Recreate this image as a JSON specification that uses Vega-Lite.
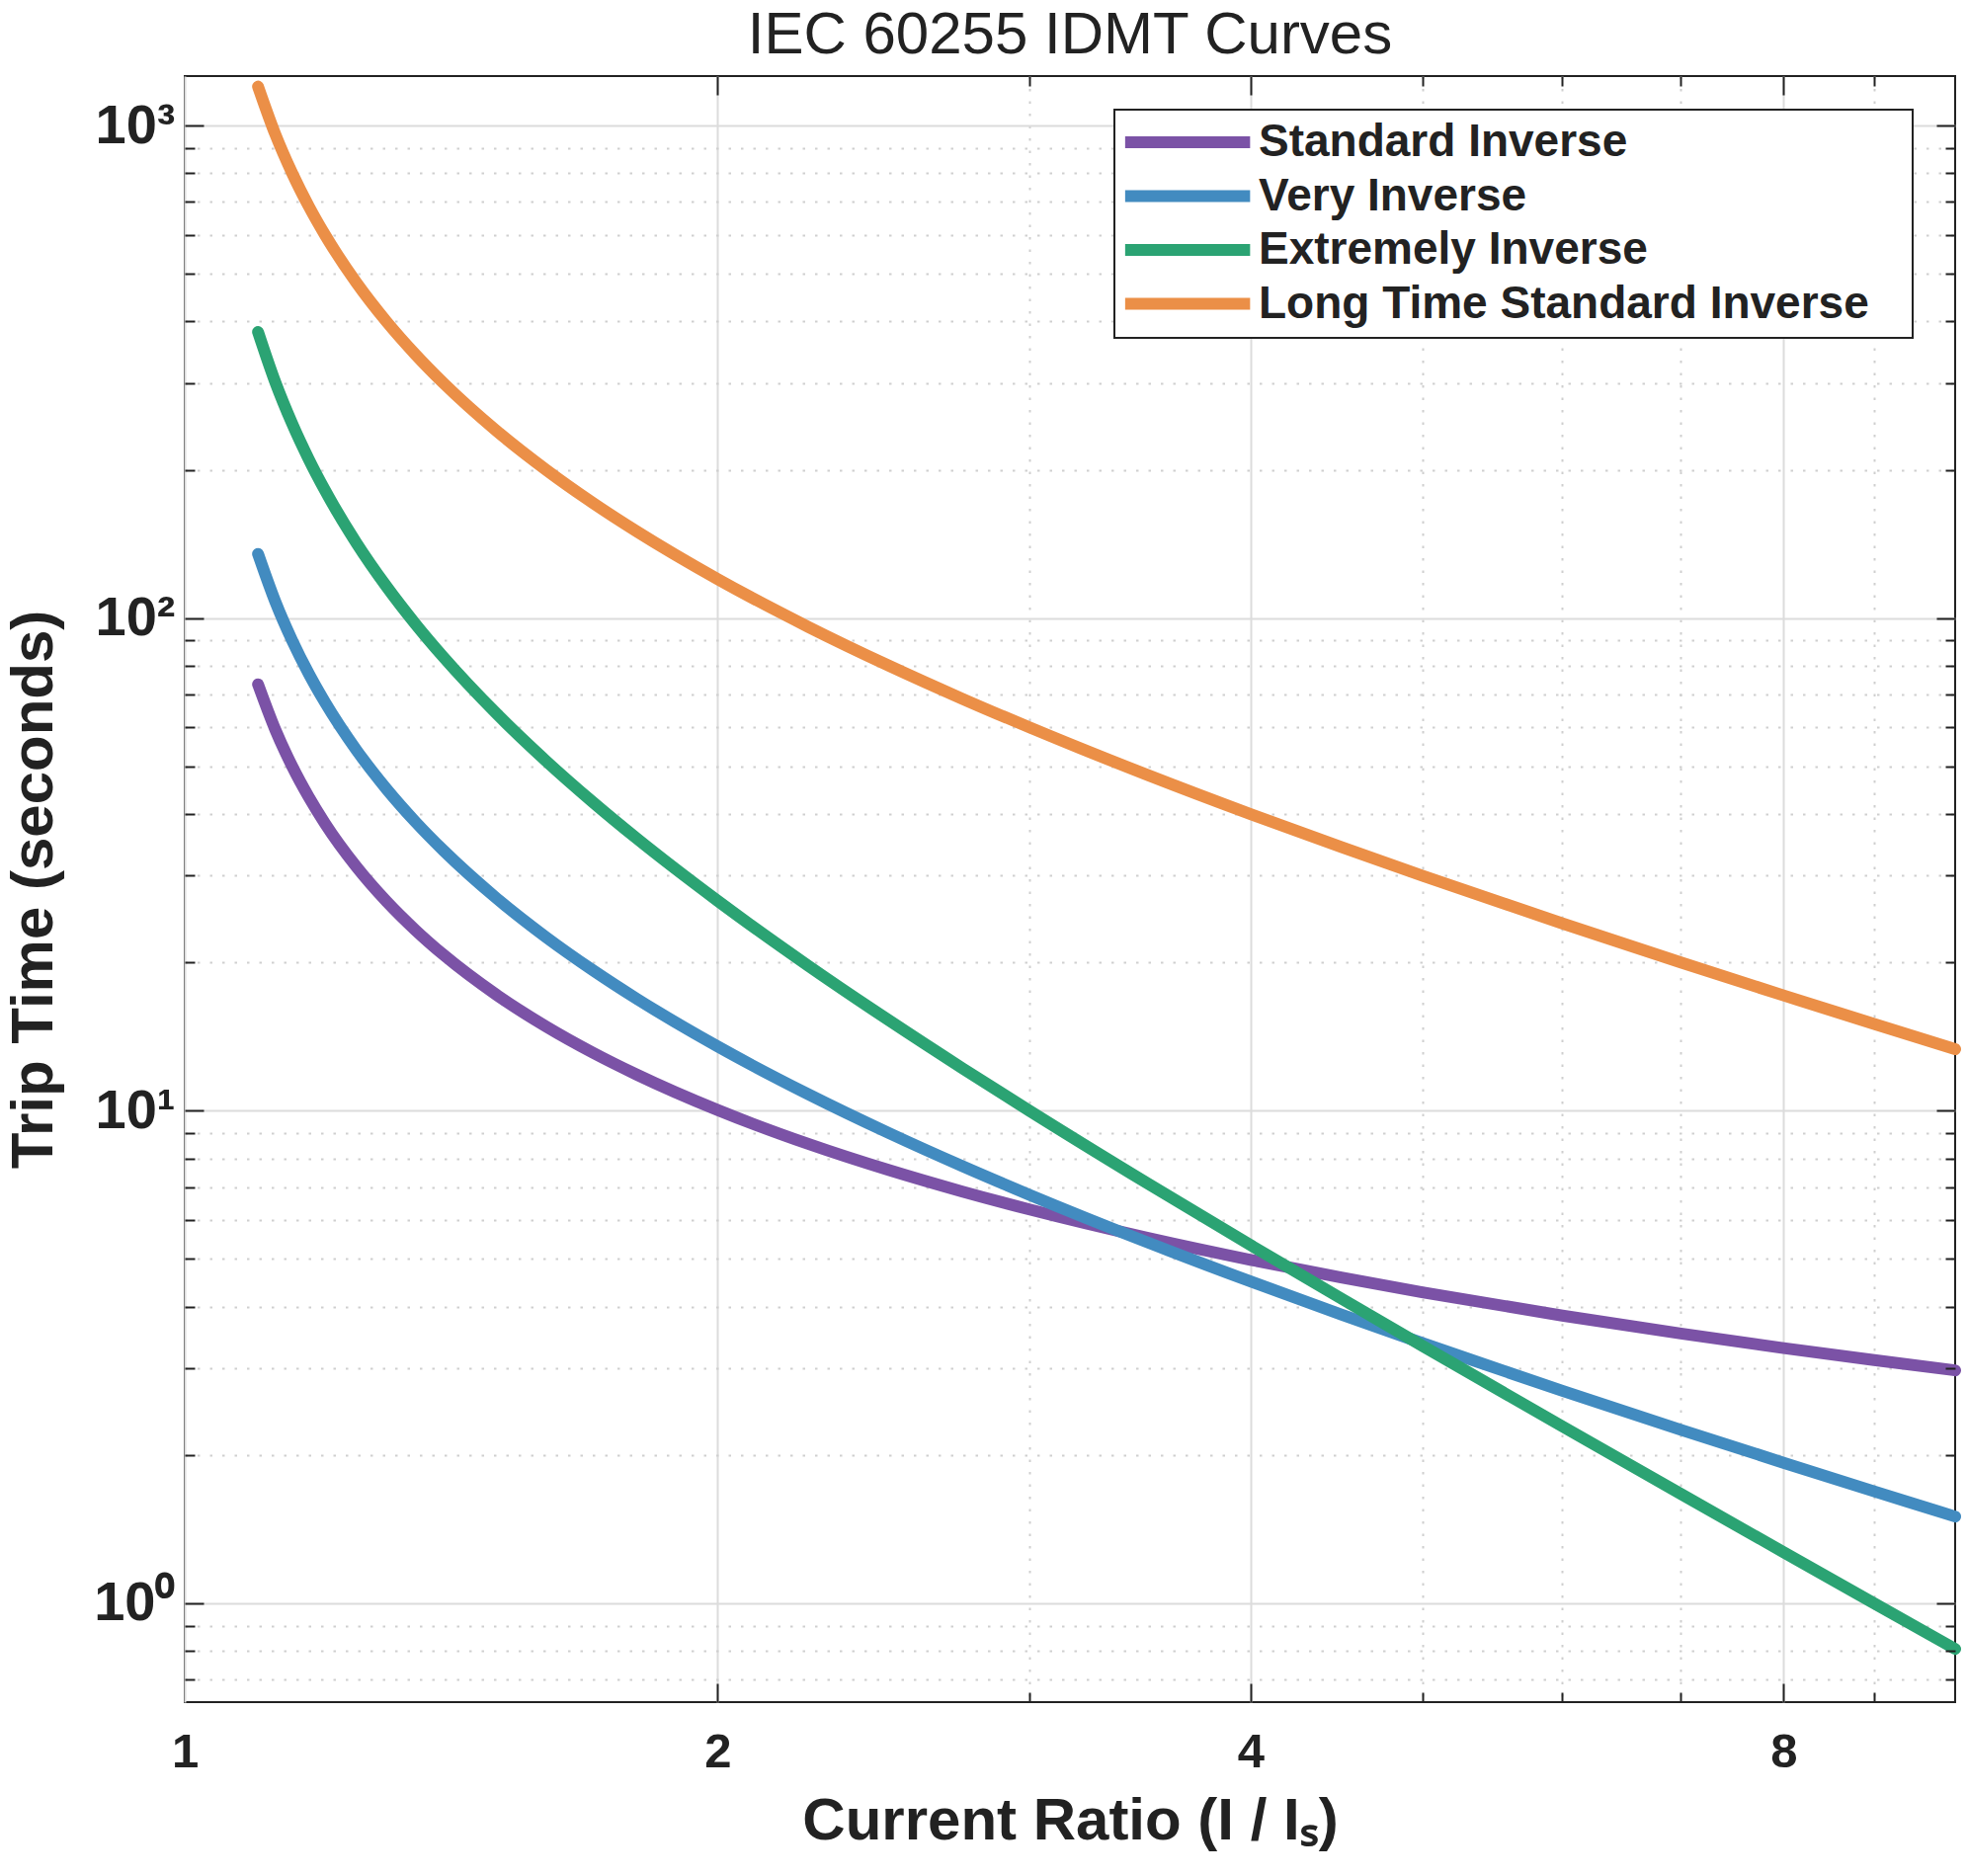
{
  "$schema": "https://vega.github.io/schema/vega-lite/v6.json",
  "autosize": {"type": "none"},
  "padding": {"left": 187, "top": 77, "right": 12, "bottom": 176},
  "width": 1792,
  "height": 1646,
  "background": "white",
  "title": {"text": "IEC 60255 IDMT Curves", "fontSize": 60, "fontWeight": "normal", "font": "Liberation Sans", "color": "#222222", "anchor": "middle", "offset": 12, "dy": 15},
  "config": {
    "view": {"stroke": "#222222", "strokeWidth": 2},
    "font": "Liberation Sans",
    "axis": {"labelFont": "Liberation Sans", "titleFont": "Liberation Sans", "labelColor": "#222222", "titleColor": "#222222", "domain": false},
    "legend": {"strokeWidth": 2}
  },
  "data": {"values": [
    {"x": 1.1, "curve": "Standard Inverse", "t": 73.38},
    {"x": 1.125, "curve": "Standard Inverse", "t": 59.36},
    {"x": 1.15, "curve": "Standard Inverse", "t": 50.01},
    {"x": 1.175, "curve": "Standard Inverse", "t": 43.34},
    {"x": 1.2, "curve": "Standard Inverse", "t": 38.32},
    {"x": 1.25, "curve": "Standard Inverse", "t": 31.30},
    {"x": 1.3, "curve": "Standard Inverse", "t": 26.61},
    {"x": 1.35, "curve": "Standard Inverse", "t": 23.26},
    {"x": 1.4, "curve": "Standard Inverse", "t": 20.73},
    {"x": 1.5, "curve": "Standard Inverse", "t": 17.19},
    {"x": 1.6, "curve": "Standard Inverse", "t": 14.82},
    {"x": 1.7, "curve": "Standard Inverse", "t": 13.12},
    {"x": 1.8, "curve": "Standard Inverse", "t": 11.84},
    {"x": 2, "curve": "Standard Inverse", "t": 10.03},
    {"x": 2.25, "curve": "Standard Inverse", "t": 8.562},
    {"x": 2.5, "curve": "Standard Inverse", "t": 7.570},
    {"x": 2.75, "curve": "Standard Inverse", "t": 6.850},
    {"x": 3, "curve": "Standard Inverse", "t": 6.302},
    {"x": 3.5, "curve": "Standard Inverse", "t": 5.518},
    {"x": 4, "curve": "Standard Inverse", "t": 4.980},
    {"x": 4.5, "curve": "Standard Inverse", "t": 4.584},
    {"x": 5, "curve": "Standard Inverse", "t": 4.280},
    {"x": 6, "curve": "Standard Inverse", "t": 3.837},
    {"x": 7, "curve": "Standard Inverse", "t": 3.528},
    {"x": 8, "curve": "Standard Inverse", "t": 3.297},
    {"x": 9, "curve": "Standard Inverse", "t": 3.116},
    {"x": 10, "curve": "Standard Inverse", "t": 2.971},
    {"x": 1.1, "curve": "Very Inverse", "t": 135},
    {"x": 1.125, "curve": "Very Inverse", "t": 108},
    {"x": 1.15, "curve": "Very Inverse", "t": 90},
    {"x": 1.175, "curve": "Very Inverse", "t": 77.14},
    {"x": 1.2, "curve": "Very Inverse", "t": 67.5},
    {"x": 1.25, "curve": "Very Inverse", "t": 54},
    {"x": 1.3, "curve": "Very Inverse", "t": 45},
    {"x": 1.35, "curve": "Very Inverse", "t": 38.57},
    {"x": 1.4, "curve": "Very Inverse", "t": 33.75},
    {"x": 1.5, "curve": "Very Inverse", "t": 27},
    {"x": 1.6, "curve": "Very Inverse", "t": 22.5},
    {"x": 1.7, "curve": "Very Inverse", "t": 19.29},
    {"x": 1.8, "curve": "Very Inverse", "t": 16.875},
    {"x": 2, "curve": "Very Inverse", "t": 13.5},
    {"x": 2.25, "curve": "Very Inverse", "t": 10.8},
    {"x": 2.5, "curve": "Very Inverse", "t": 9},
    {"x": 2.75, "curve": "Very Inverse", "t": 7.714},
    {"x": 3, "curve": "Very Inverse", "t": 6.75},
    {"x": 3.5, "curve": "Very Inverse", "t": 5.4},
    {"x": 4, "curve": "Very Inverse", "t": 4.5},
    {"x": 4.5, "curve": "Very Inverse", "t": 3.857},
    {"x": 5, "curve": "Very Inverse", "t": 3.375},
    {"x": 6, "curve": "Very Inverse", "t": 2.7},
    {"x": 7, "curve": "Very Inverse", "t": 2.25},
    {"x": 8, "curve": "Very Inverse", "t": 1.929},
    {"x": 9, "curve": "Very Inverse", "t": 1.6875},
    {"x": 10, "curve": "Very Inverse", "t": 1.5},
    {"x": 1.1, "curve": "Extremely Inverse", "t": 380.95},
    {"x": 1.125, "curve": "Extremely Inverse", "t": 301.18},
    {"x": 1.15, "curve": "Extremely Inverse", "t": 248.06},
    {"x": 1.175, "curve": "Extremely Inverse", "t": 210.18},
    {"x": 1.2, "curve": "Extremely Inverse", "t": 181.82},
    {"x": 1.25, "curve": "Extremely Inverse", "t": 142.22},
    {"x": 1.3, "curve": "Extremely Inverse", "t": 115.94},
    {"x": 1.35, "curve": "Extremely Inverse", "t": 97.26},
    {"x": 1.4, "curve": "Extremely Inverse", "t": 83.33},
    {"x": 1.5, "curve": "Extremely Inverse", "t": 64},
    {"x": 1.6, "curve": "Extremely Inverse", "t": 51.28},
    {"x": 1.7, "curve": "Extremely Inverse", "t": 42.33},
    {"x": 1.8, "curve": "Extremely Inverse", "t": 35.71},
    {"x": 2, "curve": "Extremely Inverse", "t": 26.67},
    {"x": 2.25, "curve": "Extremely Inverse", "t": 19.69},
    {"x": 2.5, "curve": "Extremely Inverse", "t": 15.24},
    {"x": 2.75, "curve": "Extremely Inverse", "t": 12.19},
    {"x": 3, "curve": "Extremely Inverse", "t": 10},
    {"x": 3.5, "curve": "Extremely Inverse", "t": 7.111},
    {"x": 4, "curve": "Extremely Inverse", "t": 5.333},
    {"x": 4.5, "curve": "Extremely Inverse", "t": 4.156},
    {"x": 5, "curve": "Extremely Inverse", "t": 3.333},
    {"x": 6, "curve": "Extremely Inverse", "t": 2.286},
    {"x": 7, "curve": "Extremely Inverse", "t": 1.667},
    {"x": 8, "curve": "Extremely Inverse", "t": 1.270},
    {"x": 9, "curve": "Extremely Inverse", "t": 1.0},
    {"x": 10, "curve": "Extremely Inverse", "t": 0.808},
    {"x": 1.1, "curve": "Long Time Standard Inverse", "t": 1200},
    {"x": 1.125, "curve": "Long Time Standard Inverse", "t": 960},
    {"x": 1.15, "curve": "Long Time Standard Inverse", "t": 800},
    {"x": 1.175, "curve": "Long Time Standard Inverse", "t": 685.7},
    {"x": 1.2, "curve": "Long Time Standard Inverse", "t": 600},
    {"x": 1.25, "curve": "Long Time Standard Inverse", "t": 480},
    {"x": 1.3, "curve": "Long Time Standard Inverse", "t": 400},
    {"x": 1.35, "curve": "Long Time Standard Inverse", "t": 342.9},
    {"x": 1.4, "curve": "Long Time Standard Inverse", "t": 300},
    {"x": 1.5, "curve": "Long Time Standard Inverse", "t": 240},
    {"x": 1.6, "curve": "Long Time Standard Inverse", "t": 200},
    {"x": 1.7, "curve": "Long Time Standard Inverse", "t": 171.4},
    {"x": 1.8, "curve": "Long Time Standard Inverse", "t": 150},
    {"x": 2, "curve": "Long Time Standard Inverse", "t": 120},
    {"x": 2.25, "curve": "Long Time Standard Inverse", "t": 96},
    {"x": 2.5, "curve": "Long Time Standard Inverse", "t": 80},
    {"x": 2.75, "curve": "Long Time Standard Inverse", "t": 68.57},
    {"x": 3, "curve": "Long Time Standard Inverse", "t": 60},
    {"x": 3.5, "curve": "Long Time Standard Inverse", "t": 48},
    {"x": 4, "curve": "Long Time Standard Inverse", "t": 40},
    {"x": 4.5, "curve": "Long Time Standard Inverse", "t": 34.29},
    {"x": 5, "curve": "Long Time Standard Inverse", "t": 30},
    {"x": 6, "curve": "Long Time Standard Inverse", "t": 24},
    {"x": 7, "curve": "Long Time Standard Inverse", "t": 20},
    {"x": 8, "curve": "Long Time Standard Inverse", "t": 17.14},
    {"x": 9, "curve": "Long Time Standard Inverse", "t": 15},
    {"x": 10, "curve": "Long Time Standard Inverse", "t": 13.33}
  ]},
  "resolve": {"axis": {"x": "independent", "y": "independent"}},
  "layer": [
    {
      "mark": {"type": "point", "opacity": 0},
      "encoding": {
        "x": {"field": "x", "type": "quantitative", "scale": {"type": "log", "domain": [1, 10], "nice": false},
          "axis": {"orient": "bottom", "values": [1, 2, 4, 8], "grid": true, "gridColor": "#dcdcdc", "gridWidth": 2, "ticks": false, "labelFontSize": 49, "labelFontWeight": "bold", "labelPadding": 26, "labelFlush": false, "title": "Current Ratio (I / Iₛ)", "titleFontSize": 60, "titleFontWeight": "bold", "titlePadding": 16, "zindex": 0}},
        "y": {"field": "t", "type": "quantitative", "scale": {"type": "log", "domain": [0.63, 1260], "nice": false},
          "axis": {"orient": "left", "values": [1, 10, 100, 1000], "labelExpr": "datum.value == 1000 ? '10³' : datum.value == 100 ? '10²' : datum.value == 10 ? '10¹' : '10⁰'", "grid": true, "gridColor": "#dcdcdc", "gridWidth": 2, "ticks": false, "labelFontSize": 56, "labelFontWeight": "bold", "labelPadding": 10, "labelFlush": false, "title": "Trip Time (seconds)", "titleFontSize": 60, "titleFontWeight": "bold", "titlePadding": 29, "zindex": 0}}
      }
    },
    {
      "mark": {"type": "point", "opacity": 0},
      "encoding": {
        "x": {"field": "x", "type": "quantitative", "scale": {"type": "log", "domain": [1, 10], "nice": false},
          "axis": {"orient": "bottom", "values": [3, 5, 6, 7, 9], "grid": true, "gridColor": "#cfcfcf", "gridWidth": 2, "gridDash": [2.5, 10], "ticks": false, "labels": false, "title": null, "zindex": 0}},
        "y": {"field": "t", "type": "quantitative", "scale": {"type": "log", "domain": [0.63, 1260], "nice": false},
          "axis": {"orient": "left", "values": [0.7, 0.8, 0.9, 2, 3, 4, 5, 6, 7, 8, 9, 20, 30, 40, 50, 60, 70, 80, 90, 200, 300, 400, 500, 600, 700, 800, 900], "grid": true, "gridColor": "#cfcfcf", "gridWidth": 2, "gridDash": [2.5, 10], "ticks": false, "labels": false, "title": null, "zindex": 0}}
      }
    },
    {
      "mark": {"type": "line", "strokeWidth": 12, "strokeCap": "round", "interpolate": "monotone"},
      "encoding": {
        "x": {"field": "x", "type": "quantitative", "scale": {"type": "log", "domain": [1, 10], "nice": false}, "axis": null},
        "y": {"field": "t", "type": "quantitative", "scale": {"type": "log", "domain": [0.63, 1260], "nice": false}, "axis": null},
        "color": {"field": "curve", "type": "nominal",
          "scale": {"domain": ["Standard Inverse", "Very Inverse", "Extremely Inverse", "Long Time Standard Inverse"], "range": ["#7B52A6", "#428BC0", "#2BA373", "#EB8F47"]},
          "legend": {"orient": "none", "legendX": 941, "legendY": 34, "title": null, "symbolType": "M-1.4,0H6.6", "symbolSize": 1000, "symbolStrokeWidth": 12, "labelFontSize": 46, "labelFontWeight": "bold", "labelFont": "Liberation Sans", "labelColor": "#222222", "labelOffset": 90, "labelLimit": 0, "labelExpr": "datum.label == 'Long Time Standard Inverse' ? datum.label + '\u2800' : datum.label", "rowPadding": 6.5, "padding": 10, "strokeColor": "#222222", "fillColor": "white"}}
      }
    },
    {
      "mark": {"type": "point", "opacity": 0},
      "encoding": {
        "x": {"field": "x", "type": "quantitative", "scale": {"type": "log", "domain": [1, 10], "nice": false},
          "axis": {"orient": "bottom", "values": [2, 4, 8], "grid": false, "ticks": true, "tickSize": -19, "tickWidth": 2, "tickColor": "#222222", "labels": false, "title": null, "zindex": 1}},
        "y": {"field": "t", "type": "quantitative", "scale": {"type": "log", "domain": [0.63, 1260], "nice": false},
          "axis": {"orient": "left", "values": [1, 10, 100, 1000], "grid": false, "ticks": true, "tickSize": -19, "tickWidth": 2, "tickColor": "#222222", "labels": false, "title": null, "zindex": 1}}
      }
    },
    {
      "mark": {"type": "point", "opacity": 0},
      "encoding": {
        "x": {"field": "x", "type": "quantitative", "scale": {"type": "log", "domain": [1, 10], "nice": false},
          "axis": {"orient": "bottom", "values": [3, 5, 6, 7, 9], "grid": false, "ticks": true, "tickSize": -10, "tickWidth": 2, "tickColor": "#222222", "labels": false, "title": null, "zindex": 1}},
        "y": {"field": "t", "type": "quantitative", "scale": {"type": "log", "domain": [0.63, 1260], "nice": false},
          "axis": {"orient": "left", "values": [0.7, 0.8, 0.9, 2, 3, 4, 5, 6, 7, 8, 9, 20, 30, 40, 50, 60, 70, 80, 90, 200, 300, 400, 500, 600, 700, 800, 900], "grid": false, "ticks": true, "tickSize": -10, "tickWidth": 2, "tickColor": "#222222", "labels": false, "title": null, "zindex": 1}}
      }
    },
    {
      "mark": {"type": "point", "opacity": 0},
      "encoding": {
        "x": {"field": "x", "type": "quantitative", "scale": {"type": "log", "domain": [1, 10], "nice": false},
          "axis": {"orient": "top", "values": [2, 4, 8], "grid": false, "ticks": true, "tickSize": -19, "tickWidth": 2, "tickColor": "#222222", "labels": false, "title": null, "zindex": 1}},
        "y": {"field": "t", "type": "quantitative", "scale": {"type": "log", "domain": [0.63, 1260], "nice": false},
          "axis": {"orient": "right", "values": [1, 10, 100, 1000], "grid": false, "ticks": true, "tickSize": -19, "tickWidth": 2, "tickColor": "#222222", "labels": false, "title": null, "zindex": 1}}
      }
    },
    {
      "mark": {"type": "point", "opacity": 0},
      "encoding": {
        "x": {"field": "x", "type": "quantitative", "scale": {"type": "log", "domain": [1, 10], "nice": false},
          "axis": {"orient": "top", "values": [3, 5, 6, 7, 9], "grid": false, "ticks": true, "tickSize": -10, "tickWidth": 2, "tickColor": "#222222", "labels": false, "title": null, "zindex": 1}},
        "y": {"field": "t", "type": "quantitative", "scale": {"type": "log", "domain": [0.63, 1260], "nice": false},
          "axis": {"orient": "right", "values": [0.7, 0.8, 0.9, 2, 3, 4, 5, 6, 7, 8, 9, 20, 30, 40, 50, 60, 70, 80, 90, 200, 300, 400, 500, 600, 700, 800, 900], "grid": false, "ticks": true, "tickSize": -10, "tickWidth": 2, "tickColor": "#222222", "labels": false, "title": null, "zindex": 1}}
      }
    }
  ]
}
